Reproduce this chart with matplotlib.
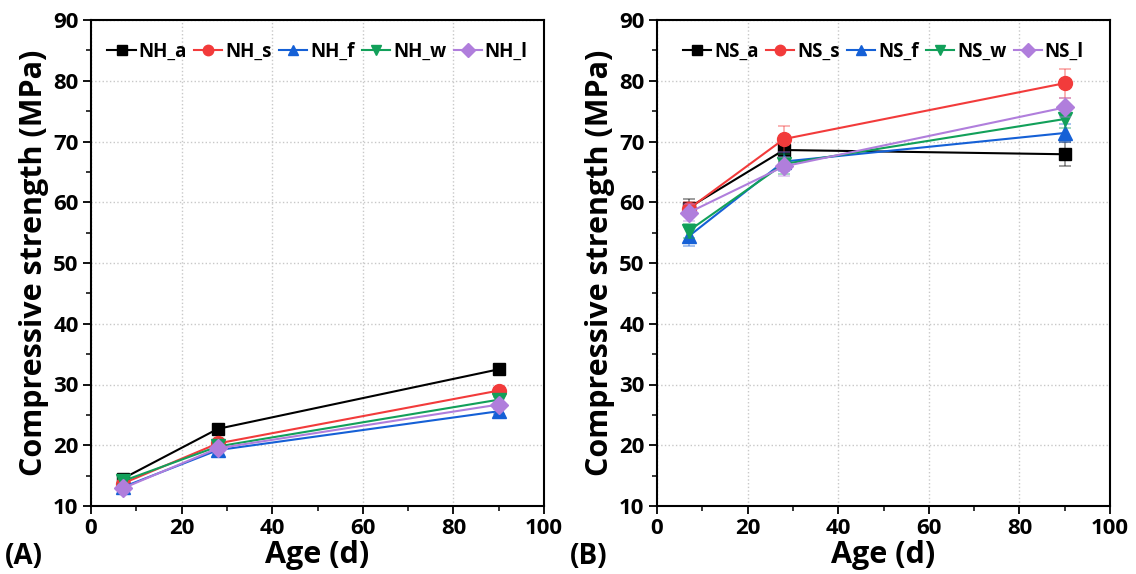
import numpy as np
import matplotlib
matplotlib.use("Agg")
import matplotlib.pyplot as plt
from matplotlib.ticker import MultipleLocator
from matplotlib.colors import to_rgba

plt.rcParams['font.family'] = ['Open Sans', 'DejaVu Sans']
plt.rcParams['font.weight'] = 'bold'

age = [7, 28, 90]

# panel A
nh_labels = ['NH_a', 'NH_s', 'NH_f', 'NH_w', 'NH_l']
nh_a = [14.5, 22.7, 32.5]
nh_s = [13.7, 20.3, 29.0]
nh_f = [13.1, 19.2, 25.6]
nh_w = [14.1, 19.8, 27.5]
nh_l = [12.9, 19.5, 26.7]
nh_err = [0.4, 0.4, 0.4]

# panel B
ns_labels = ['NS_a', 'NS_s', 'NS_f', 'NS_w', 'NS_l']
ns_a = [59.1, 68.6, 67.9]
ns_s = [58.9, 70.4, 79.6]
ns_f = [54.4, 66.7, 71.4]
ns_w = [55.3, 66.3, 73.7]
ns_l = [58.3, 65.9, 75.6]
ns_a_err = [1.4, 2.0, 2.0]
ns_s_err = [1.2, 2.1, 2.4]
ns_f_err = [1.6, 1.6, 1.5]
ns_w_err = [1.2, 1.6, 1.5]
ns_l_err = [1.4, 1.6, 1.5]

colors = ['#000000', '#F23B3B', '#1560D6', '#12A05A', '#B07EDC']
markers = ['s', 'o', '^', 'v', 'D']
msizes = [9, 10, 10, 10, 9]

fig = plt.figure(figsize=(11.36, 5.74), dpi=100)
ax1 = fig.add_axes([91 / 1136, 1 - 506 / 574, 453 / 1136, 486 / 574])
ax2 = fig.add_axes([657 / 1136, 1 - 506 / 574, 453 / 1136, 486 / 574])


def draw(ax, series, errs, labels):
    for vals, err, lab, c, m, ms in zip(series, errs, labels, colors, markers, msizes):
        ax.errorbar(age, vals, yerr=err, fmt='none', ecolor=to_rgba(c, 0.45),
                    elinewidth=1.2, capsize=4, capthick=1.2)
        ax.plot(age, vals, color=c, marker=m, markersize=ms, linewidth=1.5, label=lab)
    ax.set_xlim(0, 100)
    ax.set_ylim(10, 90)
    ax.xaxis.set_major_locator(MultipleLocator(20))
    ax.xaxis.set_minor_locator(MultipleLocator(10))
    ax.yaxis.set_major_locator(MultipleLocator(10))
    ax.yaxis.set_minor_locator(MultipleLocator(5))
    ax.tick_params(which='major', direction='out', length=6, width=1.3, labelsize=16, pad=3)
    ax.tick_params(which='minor', direction='out', length=3.5, width=1.1)
    ax.grid(True, which='major', linestyle=':', color='#c8c8c8', linewidth=1)
    for sp in ax.spines.values():
        sp.set_linewidth(1.5)
    ax.set_xlabel('Age (d)', fontsize=22, fontweight='bold', labelpad=0)
    ax.set_ylabel('Compressive strength (MPa)', fontsize=22, fontweight='bold', labelpad=3)
    leg = ax.legend(loc='upper center', ncol=5, frameon=False, fontsize=13.5,
                    handlelength=1.5, handletextpad=0.15, columnspacing=0.4,
                    bbox_to_anchor=(0.5, 0.99), markerscale=0.75)
    for t in leg.get_texts():
        t.set_fontweight('bold')


draw(ax1, [nh_a, nh_s, nh_f, nh_w, nh_l], [nh_err] * 5, nh_labels)
draw(ax2, [ns_a, ns_s, ns_f, ns_w, ns_l],
     [ns_a_err, ns_s_err, ns_f_err, ns_w_err, ns_l_err], ns_labels)

fig.text(5 / 1136, 1 - 556 / 574, '(A)', fontsize=20, fontweight='bold', va='center')
fig.text(570 / 1136, 1 - 556 / 574, '(B)', fontsize=20, fontweight='bold', va='center')

fig.savefig('out.png', dpi=100)
